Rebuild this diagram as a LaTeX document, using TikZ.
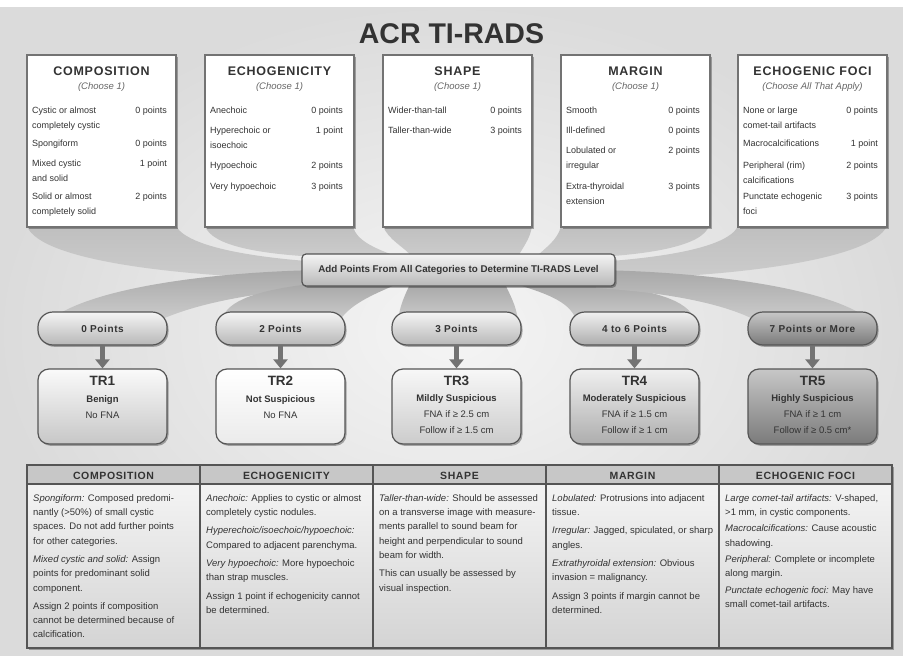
\documentclass[tikz,border=0pt]{standalone}
\usepackage{fontspec}
\setmainfont{Liberation Sans}
\newfontfamily\spacedfont[LetterSpace=6]{Liberation Sans}
\usetikzlibrary{shadows,arrows.meta}
\definecolor{txt}{HTML}{333333}
\definecolor{bord}{HTML}{555555}
\newcommand{\topitems}[4]{%
  \foreach \iy/\itx/\ipt [count=\ik] in {#4} {%
    \node[item] (#1i\ik) at (#2,\iy-6) {\rule{0pt}{9pt}\itx};
    \node[pts] (#1p\ik) at (#3,\iy+3) {\ipt};
  }}
\begin{document}
\begin{tikzpicture}[x=1pt,y=-1pt,
  myshadow/.style={drop shadow={shadow xshift=1.5pt,shadow yshift=-1.8pt,opacity=0.3,fill=black}},
  topbox/.style={draw=black!55,line width=1.1pt,fill=white,minimum width=149pt,minimum height=172pt,inner sep=0pt,myshadow},
  head/.style={anchor=base,inner sep=0pt,text=txt,font=\spacedfont\bfseries\fontsize{12.5}{13}\selectfont},
  sub/.style={anchor=base,inner sep=0pt,text=black!60,font=\itshape\fontsize{9.5}{10}\selectfont},
  item/.style={anchor=north west,inner sep=0pt,align=left,text=txt,font=\fontsize{9}{15}\selectfont},
  pts/.style={anchor=base east,inner sep=0pt,text=txt,font=\fontsize{9}{10}\selectfont},
  ribtop/.style={top color=black!25,bottom color=black!20},
  ribbot/.style={top color=black!34,bottom color=black!20},
  bar/.style={draw=bord,line width=1.2pt,rounded corners=4pt,top color=black!4,bottom color=black!28,minimum width=313pt,minimum height=32pt,text=txt,font=\bfseries\fontsize{9.8}{10}\selectfont,myshadow},
  pill/.style={draw=bord,line width=1.2pt,rounded corners=15pt,minimum width=129pt,minimum height=33pt,text=txt,font=\spacedfont\bfseries\fontsize{10}{11}\selectfont,myshadow},
  arrowc/.style={draw=black!55,line width=5pt,-{Triangle[width=14pt,length=9pt]}},
  trbox/.style={draw=bord,line width=1.2pt,rounded corners=11pt,minimum width=129pt,minimum height=75pt,myshadow},
  trt/.style={anchor=base,inner sep=0pt,text=txt,font=\bfseries\fontsize{13.5}{14}\selectfont},
  trs/.style={anchor=base,inner sep=0pt,text=txt,font=\bfseries\fontsize{9.5}{10}\selectfont},
  trn/.style={anchor=base,inner sep=0pt,text=txt,font=\fontsize{9.5}{10}\selectfont},
  thead/.style={anchor=base,inner sep=0pt,text=txt,font=\spacedfont\bfseries\fontsize{10.5}{11}\selectfont},
  tcol/.style={anchor=north west,inner sep=0pt,align=left,text=txt,font=\fontsize{9.5}{14.3}\selectfont}
]
\useasboundingbox (0,0) rectangle (903,656);
% background
\fill[white] (0,0) rectangle (903,656);
\shade[inner color=black!4,outer color=black!14] (0,7) rectangle (903,656);

% ribbons from top boxes to bar
\shade[ribtop] (27,226) -- (176,226) .. controls (188,248) and (260,258) .. (320,262) -- (320,279) .. controls (190,278) and (40,262) .. (27,226) -- cycle;
\shade[ribtop] (205,226) -- (353,226) .. controls (356,242) and (380,250) .. (398,257) -- (318,257) .. controls (260,254) and (212,246) .. (205,226) -- cycle;
\shade[ribtop] (383,226) -- (532,226) .. controls (530,240) and (522,248) .. (518,257) -- (412,257) .. controls (406,248) and (388,240) .. (383,226) -- cycle;
\shade[ribtop] (561,226) -- (709,226) .. controls (702,246) and (650,254) .. (598,257) -- (536,257) .. controls (545,248) and (558,240) .. (561,226) -- cycle;
\shade[ribtop] (738,226) -- (887,226) .. controls (870,262) and (720,278) .. (596,279) -- (596,262) .. controls (660,258) and (728,248) .. (738,226) -- cycle;
% ribbons from bar to pills
\shade[ribbot] (320,270) .. controls (210,272) and (90,288) .. (50,320) -- (160,320) .. controls (200,302) and (260,292) .. (320,288) -- cycle;
\shade[ribbot] (310,284) .. controls (260,290) and (226,300) .. (222,320) -- (340,320) .. controls (352,302) and (380,292) .. (397,284) -- cycle;
\shade[ribbot] (410,284) .. controls (405,295) and (400,305) .. (398,320) -- (518,320) .. controls (516,305) and (510,295) .. (505,284) -- cycle;
\shade[ribbot] (516,284) .. controls (540,292) and (570,300) .. (576,320) -- (694,320) .. controls (690,300) and (650,290) .. (600,284) -- cycle;
\shade[ribbot] (596,270) .. controls (710,272) and (830,288) .. (870,320) -- (755,320) .. controls (720,302) and (660,292) .. (596,288) -- cycle;

% title
\node[anchor=base,inner sep=0pt,text=txt,font=\bfseries\fontsize{28.5}{30}\selectfont] (title) at (451.5,43) {ACR TI-RADS};

% top boxes
\node[topbox] (b1) at (101.5,141) {};
\node[topbox] (b2) at (279.5,141) {};
\node[topbox] (b3) at (457.5,141) {};
\node[topbox] (b4) at (635.5,141) {};
\node[topbox] (b5) at (812.5,141) {};
\node[head] (h1) at (101.5,75.5) {COMPOSITION};
\node[head] (h2) at (279.5,75.5) {ECHOGENICITY};
\node[head] (h3) at (457.5,75.5) {SHAPE};
\node[head] (h4) at (635.5,75.5) {MARGIN};
\node[head] (h5) at (812.5,75.5) {ECHOGENIC FOCI};
\node[sub] (s1) at (101.5,89.5) {(Choose 1)};
\node[sub] (s2) at (279.5,89.5) {(Choose 1)};
\node[sub] (s3) at (457.5,89.5) {(Choose 1)};
\node[sub] (s4) at (635.5,89.5) {(Choose 1)};
\node[sub] (s5) at (812.5,89.5) {(Choose All That Apply)};

\topitems{comp}{32}{167}{110/{Cystic or almost\\completely cystic}/0 points, 143/Spongiform/0 points, 163/{Mixed cystic\\and solid}/1 point, 196/{Solid or almost\\completely solid}/2 points}
\topitems{echo}{210}{343}{110/Anechoic/0 points, 130/{Hyperechoic or\\isoechoic}/1 point, 165/Hypoechoic/2 points, 186/Very hypoechoic/3 points}
\topitems{shp}{388}{522}{110/Wider-than-tall/0 points, 130/Taller-than-wide/3 points}
\topitems{marg}{566}{700}{110/Smooth/0 points, 130/Ill-defined/0 points, 150/{Lobulated or\\irregular}/2 points, 186/{Extra-thyroidal\\extension}/3 points}
\topitems{foci}{743}{878}{110/{None or large\\comet-tail artifacts}/0 points, 143/Macrocalcifications/1 point, 165/{Peripheral (rim)\\calcifications}/2 points, 196/{Punctate echogenic\\foci}/3 points}

% central bar
\node[bar] (bar) at (458.5,270) {Add Points From All Categories to Determine TI-RADS Level};

% pills
\node[pill,top color=black!4,bottom color=black!28] (p1) at (102.5,328.5) {0 Points};
\node[pill,top color=black!4,bottom color=black!28] (p2) at (280.5,328.5) {2 Points};
\node[pill,top color=black!4,bottom color=black!28] (p3) at (456.5,328.5) {3 Points};
\node[pill,top color=black!6,bottom color=black!32] (p4) at (634.5,328.5) {4 to 6 Points};
\node[pill,top color=black!22,bottom color=black!52] (p5) at (812.5,328.5) {7 Points or More};

% TR boxes
\node[trbox,top color=black!2,bottom color=black!22] (t1) at (102.5,406.5) {};
\node[trbox,top color=white,bottom color=black!8] (t2) at (280.5,406.5) {};
\node[trbox,top color=black!3,bottom color=black!20] (t3) at (456.5,406.5) {};
\node[trbox,top color=black!6,bottom color=black!32] (t4) at (634.5,406.5) {};
\node[trbox,top color=black!22,bottom color=black!52] (t5) at (812.5,406.5) {};

\foreach \k in {1,...,5} \draw[arrowc] (p\k.south) -- (t\k.north);

\node[trt] (t1a) at (102.5,385) {TR1};
\node[trs] (t1b) at (102.5,402.5) {Benign};
\node[trn] (t1c) at (102.5,418.5) {No FNA};
\node[trt] (t2a) at (280.5,385) {TR2};
\node[trs] (t2b) at (280.5,402.5) {Not Suspicious};
\node[trn] (t2c) at (280.5,418.5) {No FNA};
\node[trt] (t3a) at (456.5,385) {TR3};
\node[trs] (t3b) at (456.5,401.5) {Mildly Suspicious};
\node[trn] (t3c) at (456.5,417.5) {FNA if ≥ 2.5 cm};
\node[trn] (t3d) at (456.5,433.5) {Follow if ≥ 1.5 cm};
\node[trt] (t4a) at (634.5,385) {TR4};
\node[trs] (t4b) at (634.5,401.5) {Moderately Suspicious};
\node[trn] (t4c) at (634.5,417.5) {FNA if ≥ 1.5 cm};
\node[trn] (t4d) at (634.5,433.5) {Follow if ≥ 1 cm};
\node[trt] (t5a) at (812.5,385) {TR5};
\node[trs] (t5b) at (812.5,401.5) {Highly Suspicious};
\node[trn] (t5c) at (812.5,417.5) {FNA if ≥ 1 cm};
\node[trn] (t5d) at (812.5,433.5) {Follow if ≥ 0.5 cm*};

% bottom table
\path[top color=black!3,bottom color=black!17,myshadow] (27,465) rectangle (892,648);
\fill[black!22] (27,465) rectangle (892,484);
\draw[bord,line width=1.3pt] (27,465) rectangle (892,648);
\draw[bord,line width=1.1pt] (27,484) -- (892,484);
\foreach \xx in {200,373,546,719} \draw[bord,line width=1.3pt] (\xx,465) -- (\xx,648);

\node[thead] (th1) at (113.5,479) {COMPOSITION};
\node[thead] (th2) at (286.5,479) {ECHOGENICITY};
\node[thead] (th3) at (459.5,479) {SHAPE};
\node[thead] (th4) at (632.5,479) {MARGIN};
\node[thead] (th5) at (805.5,479) {ECHOGENIC FOCI};

\node[tcol] (tc1) at (33,491) {\rule{0pt}{10pt}\textit{Spongiform:} Composed predomi-\\nantly (>50\%) of small cystic\\spaces. Do not add further points\\for other categories.\\[4pt]\textit{Mixed cystic and solid:} Assign\\points for predominant solid\\component.\\[4pt]Assign 2 points if composition\\cannot be determined because of\\calcification.};
\node[tcol] (tc2) at (206,491) {\rule{0pt}{10pt}\textit{Anechoic:} Applies to cystic or almost\\completely cystic nodules.\\[4pt]\textit{Hyperechoic/isoechoic/hypoechoic:}\\Compared to adjacent parenchyma.\\[4pt]\textit{Very hypoechoic:} More hypoechoic\\than strap muscles.\\[4pt]Assign 1 point if echogenicity cannot\\be determined.};
\node[tcol] (tc3) at (379,491) {\rule{0pt}{10pt}\textit{Taller-than-wide:} Should be assessed\\on a transverse image with measure-\\ments parallel to sound beam for\\height and perpendicular to sound\\beam for width.\\[4pt]This can usually be assessed by\\visual inspection.};
\node[tcol] (tc4) at (552,491) {\rule{0pt}{10pt}\textit{Lobulated:} Protrusions into adjacent\\tissue.\\[4pt]\textit{Irregular:} Jagged, spiculated, or sharp\\angles.\\[4pt]\textit{Extrathyroidal extension:} Obvious\\invasion = malignancy.\\[4pt]Assign 3 points if margin cannot be\\determined.};
\node[tcol] (tc5) at (725,491) {\rule{0pt}{10pt}\textit{Large comet-tail artifacts:} V-shaped,\\>1 mm, in cystic components.\\[2pt]\textit{Macrocalcifications:} Cause acoustic\\shadowing.\\[2pt]\textit{Peripheral:} Complete or incomplete\\along margin.\\[2pt]\textit{Punctate echogenic foci:} May have\\small comet-tail artifacts.};
\end{tikzpicture}
\end{document}
